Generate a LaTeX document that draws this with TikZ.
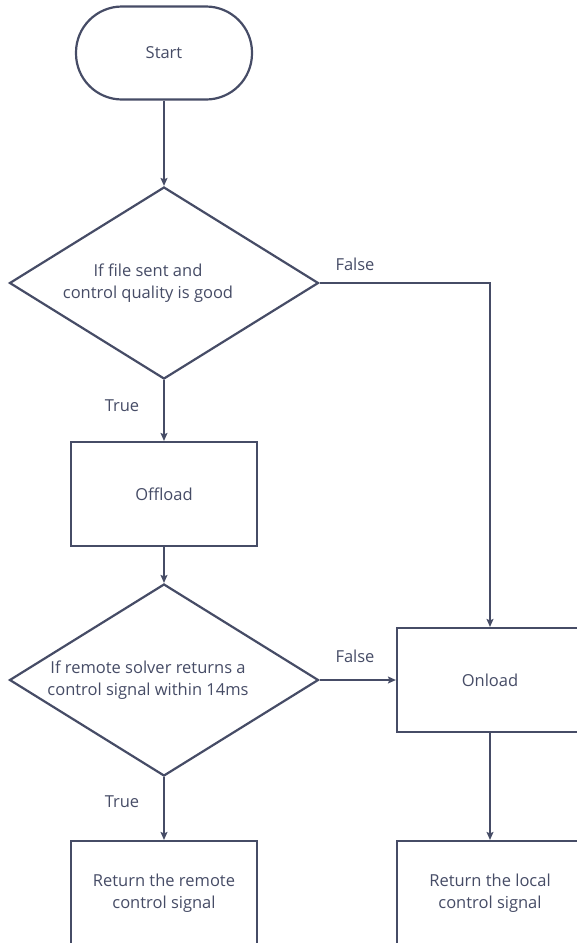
\documentclass[tikz,border=0pt]{standalone}
\usepackage{fontspec}
\setmainfont{Open Sans}
\usetikzlibrary{shapes.geometric,arrows.meta,positioning}
\definecolor{ink}{HTML}{464C66}

\begin{document}
\begin{tikzpicture}[x=1pt, y=-1pt,
		font=\fontsize{16.5}{22}\selectfont, text=ink,
		>={Stealth[length=8pt,width=7pt,inset=1.5pt]},
		forma/.style={draw=ink, line width=2.2pt, fill=white, align=center},
		termine/.style={forma, rectangle, rounded corners=46pt, minimum width=176pt, minimum height=93pt},
		blocco/.style={forma, rectangle, minimum width=186pt, minimum height=104pt},
		scelta/.style={forma, diamond, aspect=1.61, minimum width=309pt, minimum height=192pt, inner sep=0pt},
		testo/.style={align=center, xshift=-16pt},  %% testo del rombo, spostato a sx
		freccia/.style={->, draw=ink, line width=1.3pt},
		etichetta/.style={inner sep=0pt}]
	
	\useasboundingbox (0,0) rectangle (576,943);
	
	\def\xL{164}   %% colonna sinistra
	\def\xR{490}   %% colonna destra
	
	%% --- blocchi ---
	\node[termine] (start) at (\xL,53) {Start};
	\node[scelta, label={[testo]center:{If file sent and\\control quality is good}}] (dec1) at (\xL,283) {};
	\node[blocco] (offload) at (\xL,494) {Offload};
	\node[scelta, label={[testo]center:{If remote solver returns a\\control signal within 14ms}}] (dec2) at (\xL,680) {};
	\node[blocco] (onload) at (\xR,680) {Onload};
	\node[blocco] (remote) at (\xL,893) {Return the remote\\control signal};
	\node[blocco] (local) at (\xR,893) {Return the local\\control signal};
	
	%% --- collegamenti ---
	\draw[freccia] (start) -- (dec1);
	\draw[freccia] (dec1) -- (offload);
	\draw[freccia] (dec1.east) -| (onload.north);
	\draw[freccia] (offload) -- (dec2);
	\draw[freccia] (dec2) -- (onload);
	\draw[freccia] (dec2) -- (remote);
	\draw[freccia] (onload) -- (local);
	
	%% --- etichette ---
	\node[etichetta] (falso1) at (355,264) {False};
	\node[etichetta] (vero1) at (122,406) {True};
	\node[etichetta] (falso2) at (355,656) {False};
	\node[etichetta] (vero2) at (122,802) {True};
	
\end{tikzpicture}
\end{document}
